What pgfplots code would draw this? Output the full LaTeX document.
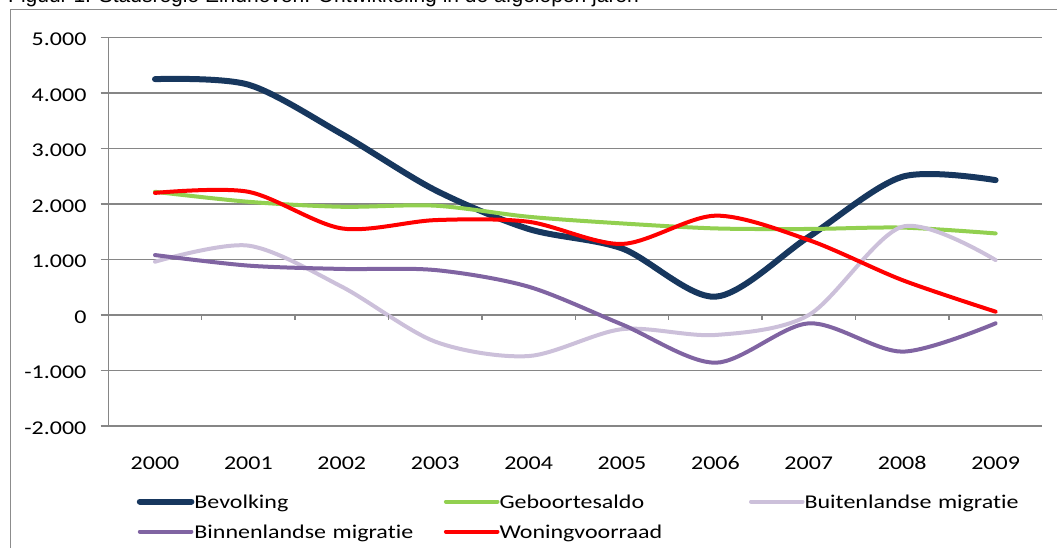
\documentclass[border=0pt]{standalone}
\usepackage{fontspec}
\setmainfont{Carlito}
\newfontfamily\lab[FakeStretch=1.23, Ligatures=NoCommon]{Carlito}
\newfontfamily\ttl{Liberation Sans}
\usepackage{pgfplots}
\pgfplotsset{compat=1.18}
\definecolor{cnavy}{RGB}{23,55,94}
\definecolor{cgreen}{RGB}{146,208,80}
\definecolor{clav}{RGB}{204,192,218}
\definecolor{cpurp}{RGB}{128,100,162}
\definecolor{cred}{RGB}{255,0,0}
\definecolor{cgrid}{RGB}{134,134,134}
\definecolor{cframe}{RGB}{140,140,140}

\pgfplotstableread{
year bev geb bui bin won
2000 4250 2220 960 1080 2200
2001 4150 2040 1250 890 2220
2002 3260 1950 510 830 1560
2003 2250 1970 -480 810 1710
2004 1550 1770 -740 510 1680
2005 1200 1650 -255 -170 1280
2006 330 1560 -360 -860 1790
2007 1410 1550 0 -150 1350
2008 2490 1575 1590 -660 630
2009 2430 1470 990 -150 60
}\datatab

\begin{document}
\begin{tikzpicture}[x=1pt,y=1pt]
\useasboundingbox (0,0) rectangle (1057,547);
\node[anchor=base west, inner sep=0pt, font=\ttl\fontsize{21}{25}\selectfont] at (8,544.3) {Figuur 1: Stadsregio Eindhoven: Ontwikkeling in de afgelopen jaren};
\draw[cframe, line width=1.5pt] (10.5,-5) -- (10.5,537.7) -- (1070,537.7);
\begin{axis}[
 scale only axis, width=934pt, height=388.5pt,
 at={(108.3pt,121pt)}, anchor=south west,
 xmin=1999.5, xmax=2009.5, ymin=-2000, ymax=5000,
 separate axis lines,
 axis y line*=left,
 x axis line style={draw=none},
 y axis line style={cgrid, line width=1.3pt, -},
 xtick={2000,2001,2002,2003,2004,2005,2006,2007,2008,2009},
 xticklabels={2000,2001,2002,2003,2004,2005,2006,2007,2008,2009},
 xtick style={draw=none},
 xticklabel style={font=\lab\fontsize{19.5}{22}\selectfont, anchor=base, inner sep=0pt, yshift=-35.7pt},
 ytick={-2000,-1000,0,1000,2000,3000,4000,5000},
 yticklabels={-2.000,-1.000,0,1.000,2.000,3.000,4.000,5.000},
 ytick pos=left,
 ytick style={cgrid, line width=1.3pt},
 tick align=outside,
 major tick length=7.7pt,
 yticklabel style={font=\lab\fontsize{19.5}{22}\selectfont, anchor=east, inner sep=0pt, yshift=-2pt, xshift=-14pt},
 ymajorgrids,
 grid style={cgrid, line width=1.3pt},
 legend columns=3,
 legend cell align=left,
 legend image code/.code={\draw[#1, line cap=round] (0pt,0pt) -- (51.6pt,0pt);},
 legend style={at={(0,0)}, anchor=north west, xshift=28.5pt, yshift=-66.5pt, draw=none, fill=none, inner sep=0pt, outer sep=0pt, column sep=0pt, row sep=12pt,
   nodes={font=\lab\fontsize{19.5}{22}\selectfont, inner xsep=0pt, inner ysep=0pt, text width=249.5pt, align=left, text height=15.5pt, text depth=2.5pt, anchor=west}},
 every axis plot/.append style={smooth, tension=0.5, line cap=round, line join=round, no markers},
]
\addplot[cnavy, line width=6pt] table[x=year, y=bev] {\datatab};
\addlegendentry{Bevolking}
\addplot[cgreen, line width=4pt] table[x=year, y=geb] {\datatab};
\addlegendentry{Geboortesaldo}
\addplot[clav, line width=4pt] table[x=year, y=bui] {\datatab};
\addlegendentry{Buitenlandse migratie}
\addplot[cpurp, line width=4pt] table[x=year, y=bin] {\datatab};
\addlegendentry{Binnenlandse migratie}
\addplot[cred, line width=4pt] table[x=year, y=won] {\datatab};
\addlegendentry{Woningvoorraad}
\pgfplotsinvokeforeach{0,...,10}{
 \draw[cgrid, line width=1.3pt] (axis cs:{1999.5+#1},0) -- ++(0pt,-5.3pt);
}
\end{axis}
\end{tikzpicture}
\end{document}
